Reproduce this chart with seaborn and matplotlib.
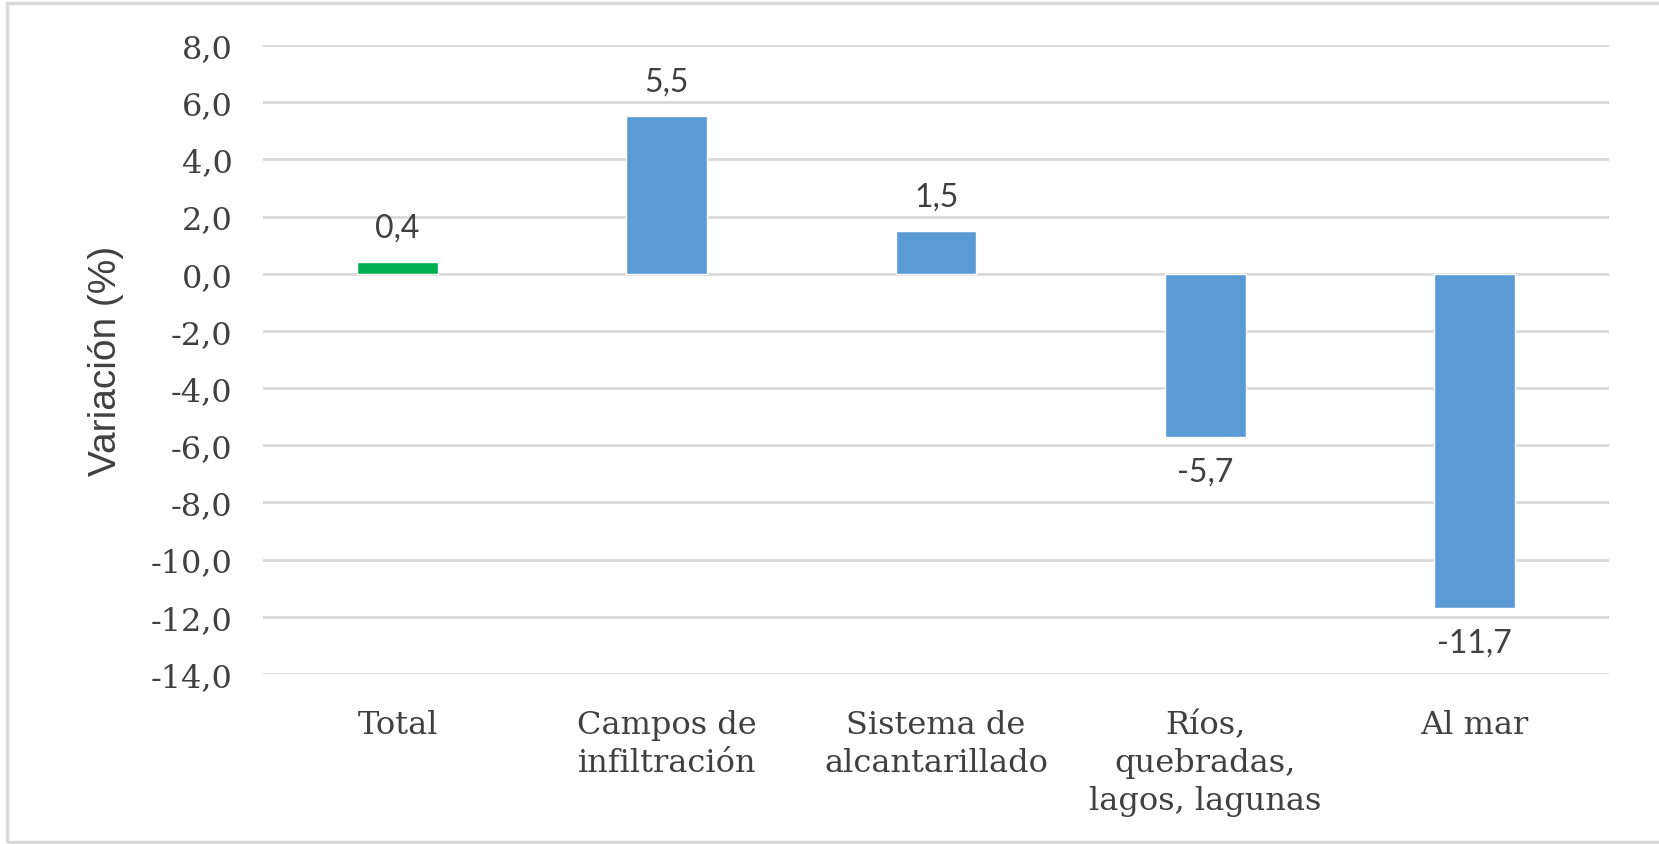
import numpy as np
import matplotlib
matplotlib.use("Agg")
import matplotlib.pyplot as plt
import seaborn as sns
from matplotlib.patches import Rectangle
from matplotlib.ticker import FuncFormatter

categories = ["Total", "Campos de\ninfiltración", "Sistema de\nalcantarillado",
              "Ríos,\nquebradas,\nlagos, lagunas", "Al mar"]
values = [0.4, 5.5, 1.5, -5.7, -11.7]
bar_colors = ["#00B050", "#5B9BD5", "#5B9BD5", "#5B9BD5", "#5B9BD5"]
y_ticks = np.arange(-14, 9, 2)

sns.set_theme(style="white")
plt.rcParams["font.family"] = ["DejaVu Serif"]
text_color = "#404040"

fig = plt.figure(figsize=(16.59, 8.45), dpi=100)
ax = fig.add_axes([0.1585, 0.2012, 0.8115, 0.7444])

sns.barplot(x=categories, y=values, hue=categories, palette=bar_colors,
            legend=False, width=0.3, saturation=1, ax=ax)

ax.set_ylim(-14, 8)
ax.set_xlim(-0.5, 4.5)
ax.set_yticks(y_ticks)
ax.yaxis.set_major_formatter(FuncFormatter(lambda v, p: f"{v:.1f}".replace(".", ",")))
ax.grid(axis="y", color="#D9D9D9", linewidth=2)
ax.set_axisbelow(True)
for s in ax.spines.values():
    s.set_visible(False)
ax.tick_params(axis="y", labelsize=23, colors=text_color, pad=22, length=0)
ax.tick_params(axis="x", labelsize=23, colors=text_color, pad=25, length=0)
for lbl in ax.get_xticklabels():
    lbl.set_linespacing(1.3)
ax.set_xlabel("")
ax.set_ylabel("Variación (%)", fontsize=28, color=text_color,
              family=["Liberation Sans Narrow", "Liberation Sans"])
ax.yaxis.set_label_coords(-0.103, 0.5)

for cont in ax.containers:
    ax.bar_label(cont, labels=[f"{v:.1f}".replace(".", ",") for v in cont.datavalues],
                 padding=14, fontsize=23, color=text_color, family=["Lato", "DejaVu Sans"])

fig.patches.append(Rectangle((0.004, 0.0024), 1.1, 0.993, transform=fig.transFigure,
                             fill=False, edgecolor="#D9D9D9", linewidth=2.5))

fig.savefig("out.png", dpi=100, facecolor="white")
